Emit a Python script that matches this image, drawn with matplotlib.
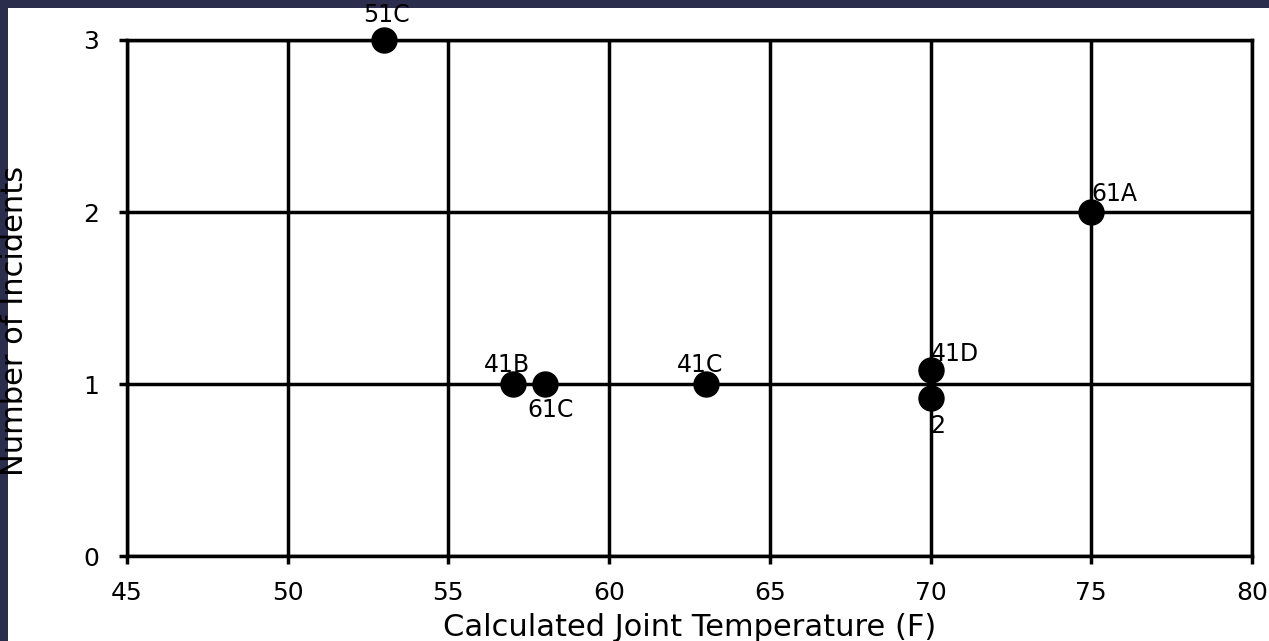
import matplotlib
matplotlib.use('Agg')
import matplotlib.pyplot as plt
from matplotlib.patches import Rectangle

# joint temperature (F) vs number of O-ring incidents
temps = [53, 57, 58, 63, 70, 70, 75]
incidents = [3, 1, 1, 1, 1, 1, 2]
dodge = [0, 0, 0, 0, 0.08, -0.08, 0]   # two flights at 70F drawn apart
flights = ['51C', '41B', '61C', '41C', '41D', '2', '61A']

x_ticks = [45, 50, 55, 60, 65, 70, 75, 80]
y_ticks = [0, 1, 2, 3]

# label offsets in points (dx, dy) and alignment
label_pos = {
    '51C': ((2, 9), 'center', 'bottom'),
    '41B': ((-4, 5), 'center', 'bottom'),
    '61C': ((4, -10), 'center', 'top'),
    '41C': ((-4, 5), 'center', 'bottom'),
    '41D': ((0, 3), 'left', 'bottom'),
    '2':   ((0, -12), 'left', 'top'),
    '61A': ((0, 4), 'left', 'bottom'),
}

navy = '#2b2d4c'
fig = plt.figure(figsize=(12.69, 6.41), dpi=100, facecolor=navy)
fig.add_artist(Rectangle((8 / 1269, 0), 1, 1 - 8 / 641, transform=fig.transFigure,
                         facecolor='white', edgecolor='none', zorder=-1))

ax = fig.add_axes([0.100, 0.1326, 0.8866, 0.805])
ax.set_facecolor('white')

ys = [n + d for n, d in zip(incidents, dodge)]
ax.plot(temps, ys, 'o', color='black', ms=18, zorder=3, clip_on=False)

for t, y, name in zip(temps, ys, flights):
    (dx, dy), ha, va = label_pos[name]
    ax.annotate(name, (t, y), xytext=(dx, dy), textcoords='offset points',
                ha=ha, va=va, fontsize=17, zorder=4)

ax.set_xlim(45, 80)
ax.set_ylim(0, 3)
ax.set_xticks(x_ticks)
ax.set_yticks(y_ticks)
ax.grid(True, color='black', lw=2.5)
ax.set_axisbelow(True)
for s in ax.spines.values():
    s.set_linewidth(2.5)
ax.tick_params(axis='both', direction='out', length=6, width=2.5, labelsize=18, pad=12)
ax.tick_params(axis='y', pad=14)

ax.set_xlabel('Calculated Joint Temperature (F)', fontsize=22, labelpad=6)
fig.text(15 / 1269, 0.5, 'Number of Incidents', rotation=90, fontsize=22,
         ha='center', va='center')

fig.savefig('out.png', dpi=100, facecolor=navy)
